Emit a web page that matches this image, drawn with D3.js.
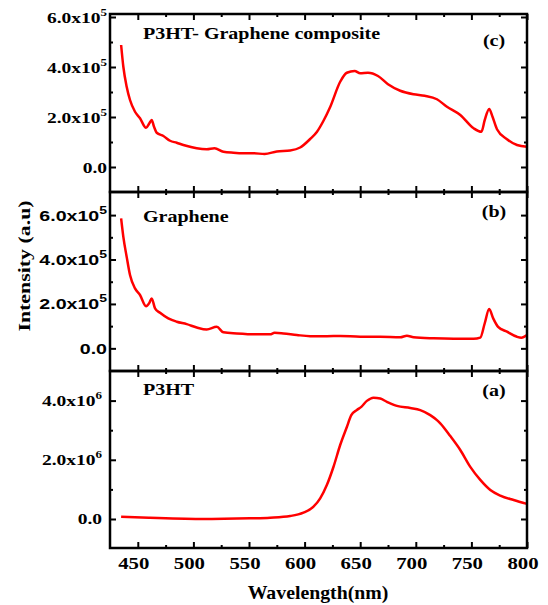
<!DOCTYPE html>
<script src="https://d3js.org/d3.v7.min.js"></script>
<body style="margin:0; background:#fff">
<svg width=548 height=605></svg>
<script>
// (c) P3HT- Graphene composite
var wavelengthC = [435,437,440,443,447.5,452,457.4,460.4,462.5,464.6,467,473,479,485,491,497,503,512,519,527,536,545,554,564,575,587,596,605,611,617,623,632,638,645,650,657,666,675,686,698,708,719,728,740,752,759,762,766,769,773,782,791,800];
var intensityC = [4.88,4.01,3.21,2.68,2.21,1.95,1.57,1.75,1.88,1.61,1.37,1.24,1.05,0.97,0.88,0.81,0.75,0.71,0.75,0.61,0.57,0.55,0.55,0.52,0.62,0.66,0.78,1.12,1.40,1.85,2.40,3.41,3.77,3.84,3.75,3.77,3.64,3.31,3.05,2.91,2.85,2.71,2.41,2.08,1.55,1.41,1.88,2.32,2.01,1.51,1.11,0.88,0.81]; // x1e5

// (b) Graphene
var wavelengthB = [435,437,440,443,447.5,452,457.4,460.4,462.5,465.5,470,477.4,485,494,503,512,521,527,539,557,569,573,581,593,605,620,632,650,668,686,692,698,716,734,752,758,762,766,769.6,774,782,791,795,800];
var intensityB = [5.85,5.02,4.12,3.30,2.70,2.40,1.90,2.05,2.25,1.80,1.60,1.35,1.20,1.09,0.94,0.85,0.97,0.72,0.67,0.63,0.63,0.70,0.67,0.60,0.55,0.55,0.56,0.52,0.52,0.50,0.57,0.50,0.45,0.43,0.43,0.48,1.13,1.77,1.35,0.97,0.75,0.52,0.48,0.60]; // x1e5

// (a) P3HT
var wavelengthA = [435,460,506,551,569,587,599,608,614,620,626,632,638,642,647,651,656,662,668,674,683,695,704,713,719,722,731,740,749,758,767,776,788,800];
var intensityA = [0.078,0.04,0.0,0.024,0.045,0.10,0.213,0.415,0.697,1.147,1.765,2.50,3.11,3.51,3.68,3.79,3.99,4.10,4.07,3.96,3.82,3.75,3.68,3.51,3.34,3.23,2.80,2.33,1.76,1.32,0.98,0.79,0.64,0.51]; // x1e6

var xTicks = [450,500,550,600,650,700,750,800];
var xMinor = [475,525,575,625,675,725,775];
var ticks5 = [0,2,4,6];
var minor5 = [1,3,5];
var ticks6 = [0,2,4];
var minor6 = [1,3];
var labels5 = ["0.0","2.0x10","4.0x10","6.0x10"];
var labels6 = ["0.0","2.0x10","4.0x10"];

var SERIF = "'Liberation Serif', 'Times New Roman', serif";
var SANS = "'Liberation Sans', Arial, sans-serif";

var svg = d3.select("svg");
var left = 110, right = 527;
var x = d3.scaleLinear().domain([425,800]).range([left,right]);

var panels = [
  {top:14, bottom:192, domain:[-1, 6.12], xs:wavelengthC, ys:intensityC, major:ticks5, minor:minor5,
   labels:labels5, exp:"5", labelEnd:107, tickFont:SERIF, tickFs:15, tickSx:1.3,
   name:"P3HT- Graphene composite", nameY:39, tag:"(c)", tagY:46},
  {top:192, bottom:371, domain:[-1.02, 7.04], xs:wavelengthB, ys:intensityB, major:ticks5, minor:minor5,
   labels:labels5, exp:"5", labelEnd:107, tickFont:SANS, tickFs:14, tickSx:1.4,
   name:"Graphene", nameY:222, tag:"(b)", tagY:217},
  {top:371, bottom:548, domain:[-0.98, 5], xs:wavelengthA, ys:intensityA, major:ticks6, minor:minor6,
   labels:labels6, exp:"6", labelEnd:102, tickFont:SERIF, tickFs:15, tickSx:1.3,
   name:"P3HT", nameY:395, tag:"(a)", tagY:396}
];

function stretchText(g, tx, ty, sx, anchor, fs, font, str) {
  return g.append("text")
    .attr("transform", "translate(" + tx + "," + ty + ") scale(" + sx + ",1)")
    .attr("text-anchor", anchor)
    .style("font-family", font)
    .style("font-weight", "bold")
    .style("font-size", fs + "px")
    .attr("fill", "#000")
    .text(str);
}

function styleTicks(g) {
  g.select(".domain").remove();
  g.selectAll("line").attr("stroke", "#000").attr("stroke-width", 2);
}

panels.forEach(function(p) {
  var y = d3.scaleLinear().domain(p.domain).range([p.bottom, p.top]);
  var g = svg.append("g");

  // inward ticks on all four sides
  [[p.major, 6], [p.minor, 3]].forEach(function(t) {
    g.append("g").attr("transform", "translate(" + left + ",0)")
      .call(d3.axisLeft(y).tickValues(t[0]).tickSizeInner(-t[1]).tickSizeOuter(0).tickFormat(""))
      .call(styleTicks);
    g.append("g").attr("transform", "translate(" + right + ",0)")
      .call(d3.axisRight(y).tickValues(t[0]).tickSizeInner(-t[1]).tickSizeOuter(0).tickFormat(""))
      .call(styleTicks);
  });
  [[xTicks, 6], [xMinor, 3]].forEach(function(t) {
    g.append("g").attr("transform", "translate(0," + p.top + ")")
      .call(d3.axisTop(x).tickValues(t[0]).tickSizeInner(-t[1]).tickSizeOuter(0).tickFormat(""))
      .call(styleTicks);
    g.append("g").attr("transform", "translate(0," + p.bottom + ")")
      .call(d3.axisBottom(x).tickValues(t[0]).tickSizeInner(-t[1]).tickSizeOuter(0).tickFormat(""))
      .call(styleTicks);
  });

  // y tick labels with superscript exponent
  p.major.forEach(function(v, i) {
    var t = stretchText(g, p.labelEnd, y(v) + 5.5, p.tickSx, "end", p.tickFs, p.tickFont, p.labels[i]);
    if (v != 0) {
      t.append("tspan").attr("dy", -7).style("font-size", "10px").text(p.exp);
    }
  });

  var line = d3.line()
    .x(function(d, i) { return x(p.xs[i]); })
    .y(function(d, i) { return y(p.ys[i]); })
    .curve(d3.curveMonotoneX);

  g.append("path")
    .attr("d", line(p.xs))
    .attr("fill", "none")
    .attr("stroke", "#ff0000")
    .attr("stroke-width", 2.5)
    .attr("stroke-linejoin", "round");

  g.append("rect")
    .attr("x", left).attr("y", p.top)
    .attr("width", right - left).attr("height", p.bottom - p.top)
    .attr("fill", "none").attr("stroke", "#000").attr("stroke-width", 2.5);

  stretchText(g, 143, p.nameY, 1.25, "start", 16, SERIF, p.name);
  stretchText(g, 494, p.tagY, 1.25, "middle", 16, SERIF, p.tag);
});

// x tick labels
xTicks.forEach(function(v) {
  stretchText(svg, x(v) - 4, 569, 1.3, "middle", 16, SERIF, v);
});

stretchText(svg, 318, 599, 1.1, "middle", 18, SERIF, "Wavelength(nm)");

svg.append("text")
  .attr("transform", "translate(30,266) rotate(270) scale(1.25,1)")
  .attr("text-anchor", "middle")
  .style("font-family", SERIF)
  .style("font-weight", "bold")
  .style("font-size", "17.5px")
  .text("Intensity (a.u)");
</script>
</body>
